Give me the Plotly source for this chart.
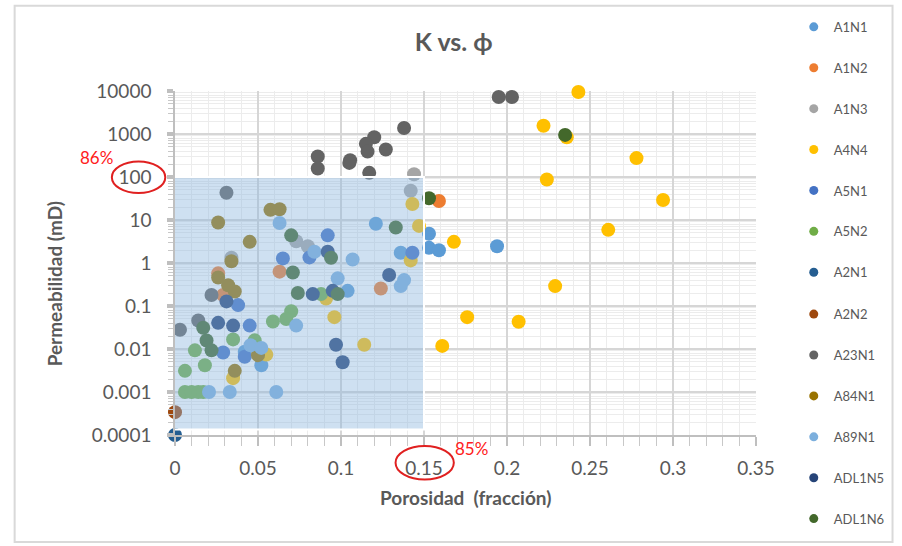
import plotly.graph_objects as go

# Porosity (fraction) and permeability (mD) per well / sample series
series_names = ["A1N1", "A1N2", "A1N3", "A4N4", "A5N1", "A5N2", "A2N1",
                "A2N2", "A23N1", "A84N1", "A89N1", "ADL1N5", "ADL1N6"]
series_colors = ["#5B9BD5", "#ED7D31", "#A5A5A5", "#FFC000", "#4472C4", "#70AD47",
                 "#255E91", "#9E480E", "#636363", "#997300", "#7CAFDD", "#264478", "#43682B"]

a1n1_phi = [0.194, 0.153, 0.153, 0.159, 0.136, 0.121, 0.104, 0.042, 0.052]
a1n1_k = [2.45, 4.8, 2.25, 1.98, 1.73, 8.2, 0.225, 0.0086, 0.0042]

a1n2_phi = [0.026, 0.063, 0.029, 0.124, 0.159]
a1n2_k = [0.575, 0.63, 0.18, 0.256, 27.7]

a1n3_phi = [0.073, 0.080, 0.142, 0.144, 0.034]
a1n3_k = [3.2, 2.45, 47.9, 116, 1.32]

a4n4_phi = [0.243, 0.222, 0.236, 0.278, 0.224, 0.294, 0.261, 0.168, 0.229, 0.176,
            0.207, 0.161, 0.143, 0.147, 0.142, 0.091, 0.096, 0.114, 0.055, 0.035]
a4n4_k = [9500, 1560, 840, 275, 87.5, 29.2, 5.9, 3.1, 0.29, 0.055,
          0.043, 0.0118, 23.6, 7.3, 1.15, 0.15, 0.055, 0.0126, 0.0074, 0.0021]

a5n1_phi = [0.065, 0.081, 0.092, 0.038, 0.045, 0.029, 0.042, 0.143]
a5n1_k = [1.28, 1.35, 4.4, 0.105, 0.035, 0.0083, 0.0066, 1.73]

a5n2_phi = [0.070, 0.067, 0.059, 0.088, 0.035, 0.048, 0.012, 0.018, 0.006,
            0.006, 0.010, 0.014, 0.017]
a5n2_k = [0.0755, 0.05, 0.0435, 0.189, 0.0167, 0.0159, 0.0093, 0.0042, 0.0031,
          0.001, 0.001, 0.001, 0.001]

a2n1_phi = [0.0]
a2n1_k = [0.0001]

a2n2_phi = [0.0]
a2n2_k = [0.00034]

a23n1_phi = [0.195, 0.203, 0.138, 0.120, 0.115, 0.116, 0.127, 0.1055, 0.105,
             0.086, 0.086, 0.117, 0.031, 0.022, 0.014, 0.003]
a23n1_k = [7280, 7280, 1380, 840, 590, 390, 435, 245, 213,
           300, 158, 125, 43, 0.18, 0.046, 0.028]

a84n1_phi = [0.0575, 0.063, 0.026, 0.045, 0.034, 0.026, 0.032, 0.036, 0.050, 0.036]
a84n1_k = [17.2, 17.8, 8.75, 3.1, 1.1, 0.46, 0.305, 0.218, 0.0072, 0.0031]

a89n1_phi = [0.063, 0.084, 0.107, 0.098, 0.073, 0.138, 0.136, 0.0455, 0.052,
             0.0205, 0.033, 0.061]
a89n1_k = [8.5, 1.82, 1.21, 0.44, 0.035, 0.40, 0.29, 0.0122, 0.0106,
           0.001, 0.001, 0.001]

adl1n5_phi = [0.026, 0.035, 0.031, 0.083, 0.095, 0.092, 0.129, 0.097, 0.101]
adl1n5_k = [0.0406, 0.035, 0.128, 0.189, 0.225, 1.82, 0.526, 0.0126, 0.0049]

adl1n6_phi = [0.070, 0.094, 0.071, 0.074, 0.098, 0.017, 0.019, 0.022, 0.133, 0.153, 0.235]
adl1n6_k = [4.4, 1.32, 0.6, 0.2, 0.189, 0.0311, 0.0158, 0.0093, 6.7, 32, 953]

phi_data = [a1n1_phi, a1n2_phi, a1n3_phi, a4n4_phi, a5n1_phi, a5n2_phi, a2n1_phi,
            a2n2_phi, a23n1_phi, a84n1_phi, a89n1_phi, adl1n5_phi, adl1n6_phi]
k_data = [a1n1_k, a1n2_k, a1n3_k, a4n4_k, a5n1_k, a5n2_k, a2n1_k,
          a2n2_k, a23n1_k, a84n1_k, a89n1_k, adl1n5_k, adl1n6_k]

x_ticks = [0, 0.05, 0.1, 0.15, 0.2, 0.25, 0.3, 0.35]
x_ticktext = ["0", "0.05", "0.1", "0.15", "0.2", "0.25", "0.3", "0.35"]
y_ticks = [0.0001, 0.001, 0.01, 0.1, 1, 10, 100, 1000, 10000]
y_ticktext = ["0.0001", "0.001", "0.01", "0.1", "1", "10", "100", "1000", "10000"]

# highlighted window: porosity up to 0.15, permeability up to 100 mD
box_phi = [0.0, 0.15]
box_k = [0.000135, 100]

FONT = "Lato, 'Open Sans', sans-serif"
GREY = "#595959"

fig = go.Figure()

for name, color, xs, ys in zip(series_names, series_colors, phi_data, k_data):
    fig.add_trace(go.Scatter(
        x=xs, y=ys, mode="markers", name=name, showlegend=False,
        marker=dict(size=14, color=color, line=dict(width=0)),
        cliponaxis=False,
    ))

# small legend keys, split over two stacked legend boxes
for i, (name, color) in enumerate(zip(series_names, series_colors)):
    fig.add_trace(go.Scatter(
        x=[None], y=[None], mode="markers", name=name, legendgroup=f"g{i}",
        legend="legend" if i < 7 else "legend2",
        marker=dict(size=9, color=color),
    ))

minor_y = [m * 10 ** e for e in range(-4, 4) for m in range(2, 10)]

fig.update_xaxes(
    range=[0, 0.35], tickvals=x_ticks, ticktext=x_ticktext,
    showgrid=True, gridcolor="#d6d6d6", gridwidth=2,
    showline=True, linecolor="#bfbfbf", linewidth=1.5,
    ticks="outside", ticklen=9, tickcolor="#bfbfbf", tickwidth=1.5,
    minor=dict(dtick=0.01, showgrid=True, gridcolor="#ececec", gridwidth=1,
               ticks="outside", ticklen=9, tickcolor="#c8c8c8", tickwidth=1),
    tickfont=dict(family=FONT, size=19, color=GREY),
    zeroline=False, ticklabelstandoff=6,
)
fig.update_yaxes(
    type="log", range=[-4, 4], tickvals=y_ticks, ticktext=y_ticktext,
    showgrid=True, gridcolor="#d6d6d6", gridwidth=2,
    showline=True, linecolor="#bfbfbf", linewidth=1.5,
    ticks="outside", ticklen=6, tickcolor="#bfbfbf", tickwidth=4,
    minor=dict(tickvals=minor_y, showgrid=True, gridcolor="#ececec", gridwidth=1,
               ticks="outside", ticklen=5, tickcolor="#c8c8c8", tickwidth=1),
    tickfont=dict(family=FONT, size=19, color=GREY),
    zeroline=False, ticklabelstandoff=12,
)

shapes = [
    # chart frame
    dict(type="rect", xref="paper", yref="paper", x0=-0.276, x1=1.235, y0=-0.311, y1=1.248,
         line=dict(color="#d9d9d9", width=2), fillcolor="rgba(0,0,0,0)", layer="below"),
    # translucent highlight over the points in the window
    dict(type="rect", xref="x", yref="y", x0=box_phi[0] - 0.001, x1=box_phi[1],
         y0=box_k[0], y1=box_k[1],
         fillcolor="#8AB4DE", opacity=0.42, line=dict(width=0), layer="above"),
    dict(type="rect", xref="x", yref="y", x0=box_phi[0] - 0.001, x1=box_phi[1],
         y0=box_k[0], y1=box_k[1],
         fillcolor="rgba(0,0,0,0)", line=dict(color="white", width=2), layer="above"),
    # red circles around the 100 mD and 0.15 labels
    dict(type="circle", xref="paper", yref="paper", x0=-0.1087, x1=-0.0167, y0=0.7032, y1=0.7954,
         line=dict(color="#E02020", width=2)),
    dict(type="circle", xref="paper", yref="paper", x0=0.3796, x1=0.4799, y0=-0.1297, y1=-0.0317,
         line=dict(color="#E02020", width=2)),
]

annotations = [
    dict(text="Porosidad  (fracción)", xref="paper", yref="paper", x=0.5, y=-0.183,
         showarrow=False, font=dict(family=FONT, size=19, color=GREY, weight="bold"),
         xanchor="center", yanchor="middle"),
    dict(text="Permeabilidad (mD)", xref="paper", yref="paper", x=-0.207, y=0.44,
         textangle=-90, showarrow=False,
         font=dict(family=FONT, size=19, color=GREY, weight="bold"),
         xanchor="center", yanchor="middle"),
    dict(text="86%", xref="paper", yref="paper", x=-0.135, y=0.807, showarrow=False,
         font=dict(family=FONT, size=17, color="#FF2020"), xanchor="center", yanchor="middle"),
    dict(text="85%", xref="paper", yref="paper", x=0.51, y=-0.04, showarrow=False,
         font=dict(family=FONT, size=17, color="#FF2020"), xanchor="center", yanchor="middle"),
]

legend_style = dict(xanchor="left", yanchor="top", maxheight=600,
                    font=dict(family=FONT, size=13, color=GREY),
                    tracegroupgap=21, itemwidth=30, bgcolor="rgba(0,0,0,0)")

fig.update_layout(
    width=902, height=546, autosize=False,
    margin=dict(l=175, r=129, t=90, b=109),
    paper_bgcolor="white", plot_bgcolor="white",
    title=dict(text="<b>K vs. ϕ</b>", x=0.503, xref="container", xanchor="center",
               y=0.923, yref="container", yanchor="middle",
               font=dict(family=FONT, size=25, color=GREY)),
    showlegend=True,
    legend=dict(x=1.065, y=1.23, **legend_style),
    legend2=dict(x=1.065, y=1.23 - 7 * 41.4 / 347, **legend_style),
    shapes=shapes, annotations=annotations,
)

fig.write_html("out.html")
